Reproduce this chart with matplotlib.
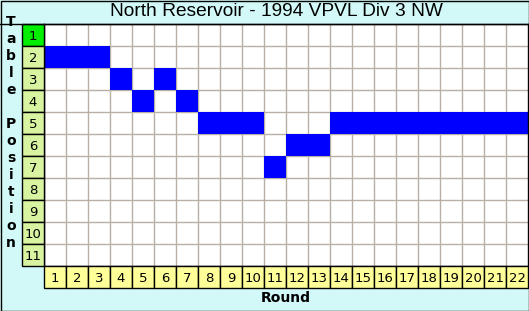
import numpy as np
import matplotlib.pyplot as plt
from matplotlib.patches import Rectangle
from matplotlib.lines import Line2D

# data
rounds = list(range(1, 23))
positions = [2, 2, 2, 3, 4, 3, 4, 5, 5, 5, 7, 6, 6, 5, 5, 5, 5, 5, 5, 5, 5, 5]
table_rows = list(range(1, 12))
title = "North Reservoir - 1994 VPVL Div 3 NW"
ylabel = "Table Position"
xlabel = "Round"

W, H = 529, 311
bg = '#d2f8f8'
fig = plt.figure(figsize=(W / 100, H / 100), dpi=100, facecolor=bg)

# grid area in pixels: x 44..528, y 24..266
ax = fig.add_axes([44 / W, (H - 266) / H, 484 / W, 242 / H])
ax.set_facecolor('white')
ax.set_xlim(0.5, len(rounds) + 0.5)
ax.set_ylim(len(table_rows) + 0.5, 0.5)
ax.set_xticks([])
ax.set_yticks([])
for s in ax.spines.values():
    s.set_color('black')
    s.set_linewidth(1)

gridc = '#b8b0a4'
ax.vlines(np.arange(1.5, len(rounds)), 0.5, len(table_rows) + 0.5, color=gridc, lw=1, zorder=1)
ax.hlines(np.arange(1.5, len(table_rows)), 0.5, len(rounds) + 0.5, color=gridc, lw=1, zorder=1)

ax.bar(rounds, 1, bottom=np.array(positions) - 0.5, width=1, color='#0000ff', zorder=2)

# row labels on the left
for r in table_rows:
    fc = '#00ee00' if r == 1 else '#d8f4a0'
    ax.add_patch(Rectangle((-0.5, r - 0.5), 1, 1, facecolor=fc, edgecolor='black',
                           lw=1, clip_on=False, zorder=3))
    ax.text(0, r + 0.05, str(r), ha='center', va='center', fontsize=9.5,
            family='DejaVu Sans', clip_on=False, zorder=4)

# round labels along the bottom
for c in rounds:
    ax.add_patch(Rectangle((c - 0.5, len(table_rows) + 0.5), 1, 1, facecolor='#ffff99',
                           edgecolor='black', lw=1, clip_on=False, zorder=3))
    ax.text(c, len(table_rows) + 1.05, str(c), ha='center', va='center', fontsize=9.5,
            family='DejaVu Sans', clip_on=False, zorder=4)

# title band
fig.add_artist(Line2D([0, 1], [1 - 24 / H, 1 - 24 / H], color='black', lw=1))
fig.text(276 / W, 1 - 12 / H, title, ha='center', va='center', fontsize=13.8,
         family='Liberation Sans')

# vertical axis label, one letter per line
for i, ch in enumerate(ylabel):
    fig.text(11 / W, 1 - (22 + 17 * i) / H, ch, ha='center', va='center',
             fontsize=10, fontweight='bold', family='DejaVu Sans')

fig.text(286 / W, 1 - 298 / H, xlabel, ha='center', va='center', fontsize=10,
         fontweight='bold', family='DejaVu Sans')

# outer frame
fig.add_artist(Rectangle((0.5 / W, 0.5 / H), 1 - 1 / W, 1 - 1 / H, transform=fig.transFigure,
                         fill=False, edgecolor='black', lw=1))

fig.savefig('out.png', dpi=100, facecolor=bg)
